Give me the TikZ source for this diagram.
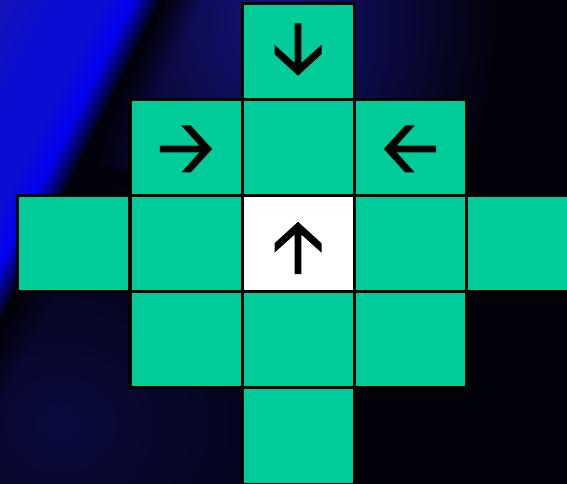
\documentclass[tikz,border=0pt]{standalone}
\usetikzlibrary{calc,fadings}
\definecolor{cellgreen}{RGB}{0,204,153}
\definecolor{bgblack}{RGB}{2,2,10}
\definecolor{glownavy}{RGB}{20,18,122}
\definecolor{lownavy}{RGB}{10,10,62}
\definecolor{sideblue}{RGB}{20,20,185}
\definecolor{midblue}{RGB}{12,12,210}
\definecolor{streakblue}{RGB}{2,2,242}
\definecolor{darkstreak}{RGB}{2,2,100}
\definecolor{faintblue}{RGB}{24,24,140}

\pgfdeclarehorizontalshading{bandshade}{100bp}{%
  color(0bp)=(sideblue); color(38bp)=(sideblue); color(52bp)=(midblue);
  color(62bp)=(midblue); color(68bp)=(streakblue); color(72bp)=(darkstreak);
  color(74.5bp)=(bgblack); color(100bp)=(bgblack)}

\tikzfading[name=fade right, left color=transparent!0, right color=transparent!100]
\tikzfading[name=soft ridge, left color=transparent!100,
  middle color=transparent!35, right color=transparent!100]

\begin{document}
\begin{tikzpicture}[x=0.03cm,y=0.03cm]

% Each cell is given as:
% \cell{name}{column}{row}{fill}
\newcommand{\cell}[4]{%
  \node[cell box, fill=#4] (#1) at ({74+112*#2},{432-96*#3}) {};
}

% Arrow glyph drawn pointing up, then turned:
% \cellarrow{centre}{angle}
\newcommand{\cellarrow}[2]{%
  \fill[black, shift={#1}, rotate=#2]
    (0,26.2) -- (23.5,4.7) -- (23.5,-4.7) -- (3.3,13.5) -- (3.3,-26.2)
    -- (-3.3,-26.2) -- (-3.3,13.5) -- (-23.5,-4.7) -- (-23.5,4.7) -- cycle;
}

\tikzset{
  cell box/.style={
    draw=black,
    line width=0.09cm,
    minimum width=3.36cm,
    minimum height=2.88cm,
    inner sep=0pt,
    outer sep=0pt
  }
}

\useasboundingbox (0,0) rectangle (567,484);
\clip (0,0) rectangle (567,484);

% Background.
\fill[bgblack] (0,0) rectangle (567,484);
\shade[inner color=glownavy, outer color=bgblack]
  (270,464) ellipse [x radius=230, y radius=300];
\shade[inner color=lownavy, outer color=bgblack]
  (60,60) ellipse [x radius=300, y radius=260];

% Diagonal streak on the left.
\begin{scope}[transform canvas={shift={(81.5,321)}, rotate=-26.57}]
  \shade[shading=bandshade] (-200,-300) rectangle (0,300);
  \fill[bgblack, path fading=fade right] (0,-300) rectangle (35,300);
  \fill[faintblue, path fading=soft ridge] (65,-340) rectangle (125,40);
\end{scope}

% Cells.
\cell{c02}{2}{0}{cellgreen}
\cell{c11}{1}{1}{cellgreen}
\cell{c12}{2}{1}{cellgreen}
\cell{c13}{3}{1}{cellgreen}
\cell{c20}{0}{2}{cellgreen}
\cell{c21}{1}{2}{cellgreen}
\cell{c22}{2}{2}{white}
\cell{c23}{3}{2}{cellgreen}
\cell{c24}{4}{2}{cellgreen}
\cell{c31}{1}{3}{cellgreen}
\cell{c32}{2}{3}{cellgreen}
\cell{c33}{3}{3}{cellgreen}
\cell{c42}{2}{4}{cellgreen}

% Arrows.
\cellarrow{($(c02)+(0,2.5)$)}{180}
\cellarrow{($(c11)+(0,-1)$)}{-90}
\cellarrow{($(c13)+(0,-1)$)}{90}
\cellarrow{($(c22)+(0,-4)$)}{0}

\end{tikzpicture}
\end{document}
